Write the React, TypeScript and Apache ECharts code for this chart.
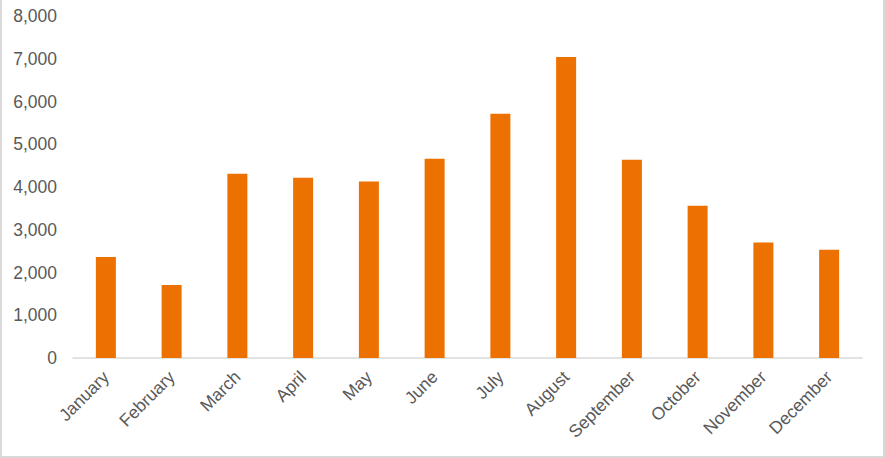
import React, { useEffect, useRef } from "react";
import * as echarts from "echarts";

const months = [
  "January", "February", "March", "April", "May", "June",
  "July", "August", "September", "October", "November", "December",
];
const values = [2365, 1710, 4310, 4215, 4130, 4660, 5715, 7040, 4635, 3560, 2700, 2530];
const yTicks = { min: 0, max: 8000, interval: 1000 };

export default function App() {
  const ref = useRef<HTMLDivElement>(null);
  useEffect(() => {
    if (!ref.current) return;
    const chart = echarts.init(ref.current, null, { renderer: "svg" });
    const font = "Liberation Sans, Arial, sans-serif";
    chart.setOption({
      animation: false,
      backgroundColor: "#ffffff",
      grid: { left: 73, right: 23, top: 16, bottom: 100, containLabel: false },
      xAxis: {
        type: "category",
        data: months,
        axisLine: { show: true, lineStyle: { color: "#d9d9d9", width: 1.5 } },
        axisTick: { show: false },
        axisLabel: {
          rotate: 45,
          interval: 0,
          margin: 16,
          color: "#595959",
          fontSize: 17.5,
          fontFamily: font,
        },
      },
      yAxis: {
        type: "value",
        min: yTicks.min,
        max: yTicks.max,
        interval: yTicks.interval,
        splitLine: { show: false },
        axisLine: { show: false },
        axisTick: { show: false },
        axisLabel: {
          margin: 16,
          color: "#595959",
          fontSize: 17.5,
          fontFamily: font,
          formatter: (v: number) => v.toLocaleString("en-US"),
        },
      },
      series: [
        {
          type: "bar",
          data: values,
          barWidth: 20,
          itemStyle: { color: "#ED7100" },
        },
      ],
      graphic: [
        { type: "rect", left: 0, top: 0, shape: { width: 2, height: 458 }, style: { fill: "#d9d9d9" } },
        { type: "rect", left: 883, top: 0, shape: { width: 2, height: 458 }, style: { fill: "#d9d9d9" } },
        { type: "rect", left: 0, top: 456, shape: { width: 885, height: 2 }, style: { fill: "#d9d9d9" } },
      ],
    });
    return () => chart.dispose();
  }, []);
  return (
    <div
      ref={ref}
      style={{ position: "fixed", left: 0, top: 0, width: 885, height: 458 }}
    />
  );
}
